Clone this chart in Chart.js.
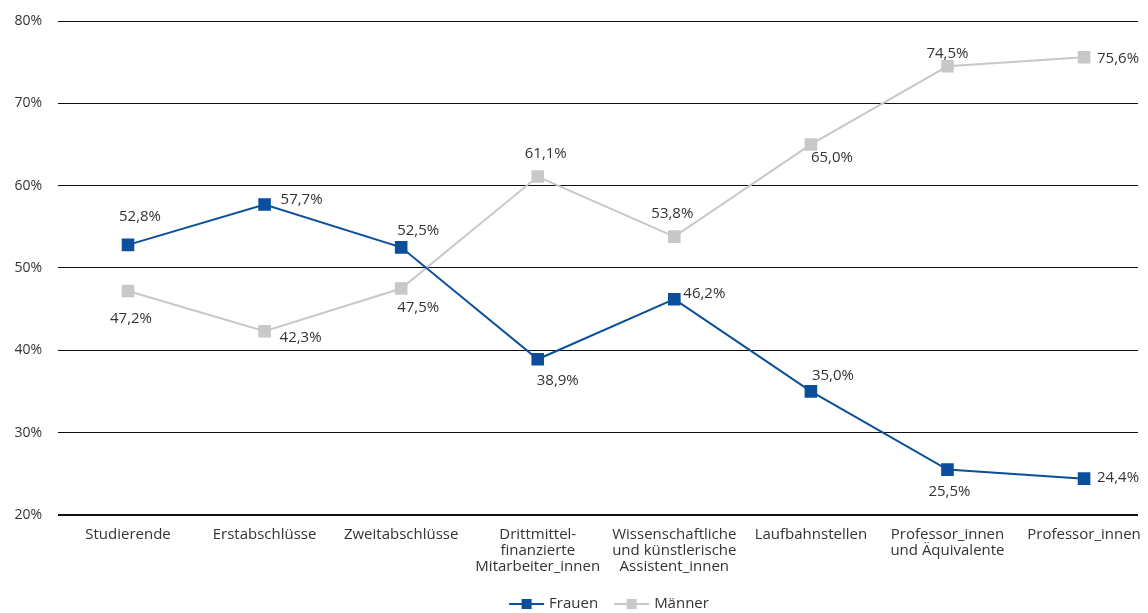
<!DOCTYPE html>
<html>
<head>
<meta charset="utf-8">
<script src="https://cdn.jsdelivr.net/npm/chart.js@4"></script>
<style>
  html, body { margin: 0; padding: 0; background: #fff; }
  .wrap { width: 1148px; height: 613px; position: relative; }
</style>
</head>
<body>
<div class="wrap"><canvas id="chart"></canvas></div>
<script>
const categories = [
  'Studierende',
  'Erstabschlüsse',
  'Zweitabschlüsse',
  ['Drittmittel-', 'finanzierte', 'Mitarbeiter_innen'],
  ['Wissenschaftliche', 'und künstlerische', 'Assistent_innen'],
  'Laufbahnstellen',
  ['Professor_innen', 'und Äquivalente'],
  'Professor_innen'
];
const seriesNames = ['Frauen', 'Männer'];
const frauen = [52.8, 57.7, 52.5, 38.9, 46.2, 35.0, 25.5, 24.4];
const maenner = [47.2, 42.3, 47.5, 61.1, 53.8, 65.0, 74.5, 75.6];
const yTicks = [20, 30, 40, 50, 60, 70, 80];

// label placement per point (dx, dy from the marker to the label centre)
const frauenLabelPos = [[12, -28], [37, -5], [17, -17], [20, 21], [30, -5], [22, -16], [2, 22], [34, -1]];
const maennerLabelPos = [[3, 28], [36, 6], [17, 19], [8, -23], [-2, -23], [21, 13], [0, -13], [34, 2]];

const FONT = '"Open Sans", "Noto Sans", sans-serif';
const BLUE = '#0b4f9c';
const GREY = '#c8c8c8';
const TEXT = '#333';
const fmt = v => v.toFixed(1).replace('.', ',') + '%';

const valueLabels = {
  id: 'valueLabels',
  afterDatasetsDraw(chart) {
    const ctx = chart.ctx;
    const values = [frauen, maenner];
    const offsets = [frauenLabelPos, maennerLabelPos];
    ctx.save();
    ctx.font = '15px ' + FONT;
    ctx.fillStyle = TEXT;
    ctx.textAlign = 'center';
    ctx.textBaseline = 'middle';
    values.forEach((vals, di) => {
      chart.getDatasetMeta(di).data.forEach((pt, i) => {
        const [dx, dy] = offsets[di][i];
        ctx.fillText(fmt(vals[i]), pt.x + dx, pt.y + dy);
      });
    });
    ctx.restore();
  }
};

// legend: line with square marker, then the name
const lineLegend = {
  id: 'lineLegend',
  afterDraw(chart) {
    const ctx = chart.ctx;
    const colors = [BLUE, GREY];
    const y = chart.height - 9;
    ctx.save();
    ctx.font = '15px ' + FONT;
    ctx.textBaseline = 'middle';
    const widths = seriesNames.map(n => 40 + ctx.measureText(n).width);
    const total = widths.reduce((a, b) => a + b, 0) + 16;
    let x = (chart.chartArea.left + chart.chartArea.right) / 2 + 11 - total / 2;
    seriesNames.forEach((name, i) => {
      ctx.strokeStyle = colors[i];
      ctx.fillStyle = colors[i];
      ctx.lineWidth = 2;
      ctx.beginPath(); ctx.moveTo(x, y); ctx.lineTo(x + 35, y); ctx.stroke();
      ctx.fillRect(x + 12.5, y - 5, 10, 10);
      ctx.fillStyle = TEXT;
      ctx.fillText(name, x + 40, y);
      x += widths[i] + 16;
    });
    ctx.restore();
  }
};

new Chart(document.getElementById('chart'), {
  type: 'line',
  data: {
    datasets: [
      { label: seriesNames[0], data: frauen.map((v, i) => ({ x: i, y: v })), borderColor: BLUE, backgroundColor: BLUE,
        borderWidth: 2, pointStyle: 'rect', pointRadius: 7.5, pointHoverRadius: 7.5, tension: 0 },
      { label: seriesNames[1], data: maenner.map((v, i) => ({ x: i, y: v })), borderColor: GREY, backgroundColor: GREY,
        borderWidth: 2, pointStyle: 'rect', pointRadius: 7.5, pointHoverRadius: 7.5, tension: 0 }
    ]
  },
  options: {
    responsive: true,
    maintainAspectRatio: false,
    animation: false,
    layout: { padding: { top: 21, right: 10, left: 0, bottom: 34 } },
    plugins: {
      tooltip: { enabled: false },
      legend: { display: false }
    },
    scales: {
      x: {
        type: 'linear',
        min: -0.5126,
        max: 7.395,
        afterBuildTicks: axis => { axis.ticks = categories.map((_, i) => ({ value: i })); },
        afterFit: axis => { axis.paddingLeft = 0; axis.paddingRight = 0; },
        ticks: {
          color: TEXT,
          font: { family: FONT, size: 15, lineHeight: 1.07 },
          autoSkip: false,
          maxRotation: 0,
          padding: 4,
          callback: v => categories[v]
        },
        grid: { display: false },
        border: { display: false }
      },
      y: {
        min: 20,
        max: 80,
        afterBuildTicks: axis => { axis.ticks = yTicks.map(v => ({ value: v })); },
        afterFit: axis => { axis.width = 58; axis.paddingTop = 0; axis.paddingBottom = 0; },
        ticks: {
          color: TEXT,
          font: { family: FONT, size: 14 },
          padding: 16,
          callback: v => v + '%'
        },
        grid: {
          color: '#111',
          lineWidth: ctx => ctx.tick && ctx.tick.value === 20 ? 2 : 1,
          drawTicks: false
        },
        border: { display: false }
      }
    }
  },
  plugins: [valueLabels, lineLegend]
});
</script>
</body>
</html>
